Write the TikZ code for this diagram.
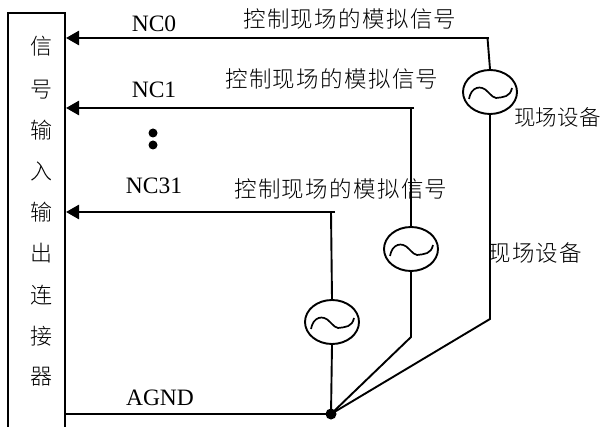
\documentclass[tikz,border=0pt]{standalone}
\usepackage{fontspec}
\setmainfont{Liberation Serif}
\newfontfamily\cjk[LetterSpace=6]{Noto Sans CJK SC Light}
\newfontfamily\cjks[LetterSpace=1]{Noto Sans CJK SC Light}
\usetikzlibrary{arrows.meta,shapes.geometric}
\tikzset{
  wire/.style={line width=1.9pt},
  sigwire/.style={line width=2.6pt,-{Triangle[length=13pt,width=14pt]}},
  source/.style={draw,ellipse,line width=1.9pt,minimum width=54pt,minimum height=44pt,inner sep=0pt,fill=white},
  latin/.style={inner sep=0pt,font=\fontsize{23.5}{23.5}\selectfont},
  sig/.style={inner sep=0pt,anchor=west,font=\fontsize{22.5}{22.5}\selectfont\cjk},
  dev/.style={inner sep=0pt,anchor=west,font=\fontsize{21.5}{21.5}\selectfont\cjks},
  vch/.style={inner sep=0pt,font=\fontsize{22}{22}\selectfont\cjks},
  tilde/.style={line width=1.7pt}
}
\newcommand{\sinewave}[1]{%
  \draw[tilde] ([shift={(-21,7)}]#1.center) .. controls ([shift={(-19,-5)}]#1.center) and ([shift={(-9,-8)}]#1.center) .. ([shift={(-2,0)}]#1.center)
    .. controls ([shift={(2,4)}]#1.center) and ([shift={(4,6)}]#1.center) .. ([shift={(6,6)}]#1.center)
    .. controls ([shift={(14,5)}]#1.center) and ([shift={(20,5)}]#1.center) .. ([shift={(22,-4)}]#1.center);}
\begin{document}
\begin{tikzpicture}[x=1pt,y=-1pt]
\useasboundingbox (0,0) rectangle (601,427);
\coordinate (boxbl) at (8,427);
\coordinate (boxtl) at (8,13);
\coordinate (boxtr) at (65,13);
\coordinate (boxbr) at (65,427);
\draw[line width=2.2pt] (boxbl) -- (boxtl) -- (boxtr) -- (boxbr);
\node[vch] (c1) at (41,46) {信};
\node[vch] (c2) at (41,90) {号};
\node[vch] (c3) at (41,130) {输};
\node[vch] (c4) at (41,171) {入};
\node[vch] (c5) at (41,212) {输};
\node[vch] (c6) at (41,253) {出};
\node[vch] (c7) at (41,295) {连};
\node[vch] (c8) at (41,336) {接};
\node[vch] (c9) at (41,377) {器};
\node[source] (s0) at (490,92) {};
\node[source] (s1) at (411,249) {};
\node[source] (s2) at (332,322) {};
\sinewave{s0}\sinewave{s1}\sinewave{s2}
\node[circle,fill=black,inner sep=0pt,minimum size=11pt] (gnd) at (331,414) {};
\coordinate (p0) at (66,38);
\coordinate (t0) at (489,38);
\coordinate (b0) at (490,319);
\draw[sigwire] (t0) -- (p0);
\draw[wire] (487.5,38) -- (s0.north);
\draw[wire] (s0.south) -- (b0) -- (gnd.center);
\coordinate (p1) at (66,108);
\coordinate (t1) at (414,108);
\coordinate (b1) at (411,337);
\draw[sigwire] (t1) -- (p1);
\draw[wire] (411,108) -- (s1.north);
\draw[wire] (s1.south) -- (b1) -- (gnd.center);
\coordinate (p2) at (66,212);
\coordinate (t2) at (335,212);
\draw[sigwire] (t2) -- (p2);
\draw[wire] (331,212) -- (s2.north);
\draw[wire] (s2.south) -- (gnd.center);
\coordinate (p3) at (65,414);
\draw[wire] (p3) -- (gnd.center);
\node[latin] (nc0) at (154,24) {NC0};
\node[latin] (nc1) at (154,90) {NC1};
\node[latin] (nc31) at (154,186) {NC31};
\node[latin] (agnd) at (160,398) {AGND};
\node[circle,fill=black,inner sep=0pt,minimum size=9pt] (d1) at (153,133) {};
\node[circle,fill=black,inner sep=0pt,minimum size=9pt] (d2) at (153,145) {};
\node[sig] (l0) at (243,19) {控制现场的模拟信号};
\node[sig] (l1) at (225,79) {控制现场的模拟信号};
\node[sig] (l2) at (234,189) {控制现场的模拟信号};
\node[dev] (e0) at (514,117) {现场设备};
\node[sig] (e1) at (488,253) {现场设备};
\end{tikzpicture}
\end{document}
